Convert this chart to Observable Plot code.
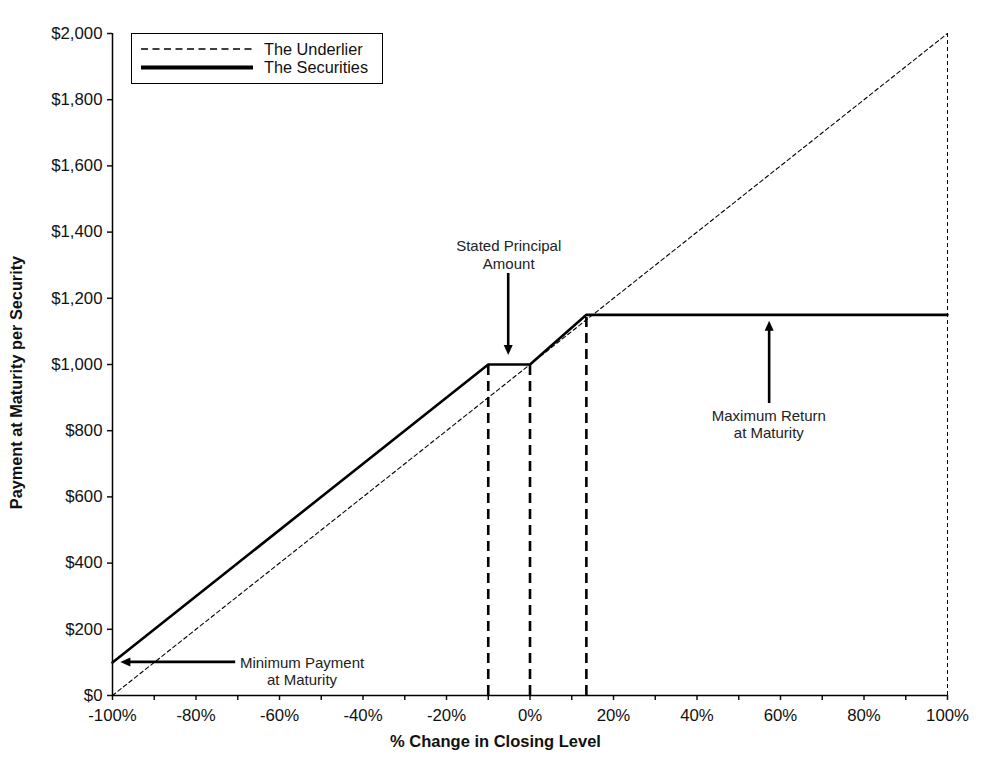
<!DOCTYPE html>
<html>
<head>
<meta charset="utf-8">
<script src="https://cdn.jsdelivr.net/npm/d3@7"></script>
<script src="https://cdn.jsdelivr.net/npm/@observablehq/plot@0.6"></script>
<style>
  html, body { margin: 0; padding: 0; background: #fff; }
</style>
</head>
<body>
<div id="chart"></div>
<script>
// ---- Data ----
const securitiesPct = [-100, -10, 0, 13.5, 100];
const securitiesValue = [100, 1000, 1000, 1150, 1150];
const underlierPct = [-100, 100];
const underlierValue = [0, 2000];
const dropPct = [-10, 0, 13.5];
const dropValue = [1000, 1000, 1150];
const xTicks = d3.range(-100, 101, 10);
const yTicks = d3.range(0, 2001, 200);
const seriesNames = ["The Underlier", "The Securities"];
const noteText = ["Stated Principal\nAmount", "Maximum Return\nat Maturity", "Minimum Payment\nat Maturity"];
const noteX = [-5.1, 57.2, -54.6];
const noteY = [1333, 820, 74];
const arrowFromX = [-5.1, 57.4, -70.5];
const arrowFromY = [1275, 882, 100];
const arrowToX = [-5.1, 57.4, -98];
const arrowToY = [1027, 1131, 100];

const securities = securitiesPct.map((x, i) => ({x, y: securitiesValue[i]}));
const underlier = underlierPct.map((x, i) => ({x, y: underlierValue[i]}));
const drops = dropPct.map((x, i) => ({x, y: dropValue[i]}));
const notes = noteText.map((t, i) => ({t, x: noteX[i], y: noteY[i]}));
const arrows = arrowFromX.map((x1, i) => ({x1, y1: arrowFromY[i], x2: arrowToX[i], y2: arrowToY[i]}));

const font = "Liberation Sans, Arial, Helvetica, sans-serif";

// Arrows with filled triangular heads, drawn through the plot's scales
function arrowMark(index, scales) {
  const g = d3.create("svg:g");
  for (const a of arrows) {
    const x1 = scales.x(a.x1), y1 = scales.y(a.y1);
    const x2 = scales.x(a.x2), y2 = scales.y(a.y2);
    const dx = x2 - x1, dy = y2 - y1, len = Math.hypot(dx, dy);
    const ux = dx / len, uy = dy / len;
    const hl = 10, hw = 4.5;
    const bx = x2 - ux * hl, by = y2 - uy * hl;
    g.append("line")
      .attr("x1", x1).attr("y1", y1).attr("x2", bx + ux).attr("y2", by + uy)
      .attr("stroke", "#000").attr("stroke-width", 2.6);
    g.append("path")
      .attr("d", `M${x2},${y2}L${bx - uy * hw},${by + ux * hw}L${bx + uy * hw},${by - ux * hw}Z`)
      .attr("fill", "#000");
  }
  return g.node();
}

// Legend box inside the plot area
function legendMark() {
  const g = d3.create("svg:g").attr("font-family", font).attr("font-size", 16.3).attr("text-anchor", "start");
  g.append("rect")
    .attr("x", 131.5).attr("y", 33.5).attr("width", 251).attr("height", 50)
    .attr("fill", "#fff").attr("stroke", "#000").attr("stroke-width", 1);
  g.append("line").attr("x1", 141).attr("x2", 253).attr("y1", 49).attr("y2", 49)
    .attr("stroke", "#000").attr("stroke-width", 1.6).attr("stroke-dasharray", "7,4.5");
  g.append("line").attr("x1", 141).attr("x2", 253).attr("y1", 67.5).attr("y2", 67.5)
    .attr("stroke", "#000").attr("stroke-width", 3.8);
  g.append("text").attr("x", 264).attr("y", 49).attr("dy", "0.35em").attr("fill", "#111").text(seriesNames[0]);
  g.append("text").attr("x", 264).attr("y", 67.5).attr("dy", "0.35em").attr("fill", "#111").text(seriesNames[1]);
  return g.node();
}

const chart = Plot.plot({
  width: 999,
  height: 762,
  marginLeft: 112,
  marginRight: 52,
  marginTop: 33,
  marginBottom: 67,
  style: {fontFamily: font, fontSize: "16.5px", color: "#111", background: "#fff", overflow: "visible"},
  x: {domain: [-100, 100]},
  y: {domain: [0, 2000]},
  marks: [
    Plot.axisX({
      ticks: xTicks, tickSize: 5, tickPadding: 9, strokeWidth: 1.5, fontSize: 16.8,
      tickFormat: d => (d % 20 === 0 ? d + "%" : ""), label: null
    }),
    Plot.axisY({
      ticks: yTicks, tickSize: 5, tickPadding: 5, strokeWidth: 1.5, fontSize: 16.8,
      tickFormat: d => "$" + d3.format(",")(d), label: null
    }),
    Plot.ruleX([100], {stroke: "#000", strokeWidth: 1, strokeDasharray: "4,3"}),
    Plot.line(underlier, {x: "x", y: "y", stroke: "#000", strokeWidth: 1.1, strokeDasharray: "4,3"}),
    Plot.ruleX(drops, {x: "x", y1: 0, y2: "y", stroke: "#000", strokeWidth: 2.6, strokeDasharray: "10,6"}),
    Plot.line(securities, {x: "x", y: "y", stroke: "#000", strokeWidth: 2.6}),
    Plot.ruleY([0], {stroke: "#000", strokeWidth: 1.5}),
    Plot.ruleX([-100], {stroke: "#000", strokeWidth: 1.5}),
    Plot.text(notes, {x: "x", y: "y", text: "t", fontSize: 15, lineHeight: 1.17, fill: "#222", textAnchor: "middle", lineAnchor: "middle"}),
    arrowMark,
    legendMark,
    Plot.text(["% Change in Closing Level"], {
      frameAnchor: "bottom", dx: -34.5, dy: 46, fontWeight: "bold", fontSize: 16.5, fill: "#111", lineAnchor: "middle"
    }),
    Plot.text(["Payment at Maturity per Security"], {
      frameAnchor: "left", dx: -96, dy: 18, rotate: -90, fontWeight: "bold", fontSize: 16.3, fill: "#111", textAnchor: "middle", lineAnchor: "middle"
    })
  ]
});

document.getElementById("chart").appendChild(chart);
</script>
</body>
</html>
